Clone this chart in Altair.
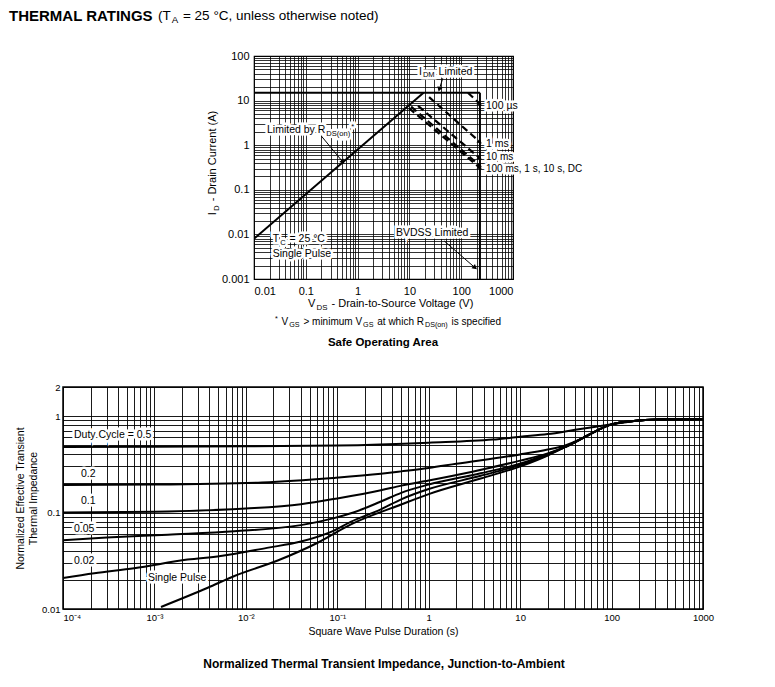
import json
import altair as alt
import pandas as pd

FONT = "Liberation Sans, Arial, Helvetica, sans-serif"

# ---------------- Safe Operating Area ----------------
rds_v = [0.01, 18.75]            # Limited by RDS(on)
rds_i = [0.008, 15.0]
idm_v = [0.01, 230.0]            # IDM limited
idm_i = [15.0, 15.0]
bvdss_v = [230.0, 230.0]         # BVDSS limited
bvdss_i = [15.0, 0.001]

pulse_names = ["100 us", "1 ms", "10 ms", "100 ms", "DC"]
pulse_v0 = [135.0, 24.0, 14.7, 9.8, 10.8]
pulse_i0 = [15.0, 12.0, 7.6, 6.8, 7.3]
pulse_v1 = [230.0, 230.0, 230.0, 230.0, 230.0]
pulse_i1 = [8.4, 1.18, 0.51, 0.31, 0.345]

arrow_names = ["rds", "idm", "bvdss"]
arrow_v0 = [0.2, 44.0, 47.2]
arrow_i0 = [1.6, 31.6, 0.0071]
arrow_v1 = [0.52, 37.8, 185.0]
arrow_i1 = [0.42, 17.9, 0.00179]
arrow_angles = [50, 107, 40]

soa_x_label_vals = [0.01, 0.1, 1, 10, 100, 1000]
soa_x_labels = ["0.01", "0.1", "1", "10", "100", "1000"]
soa_y_label_vals = [0.001, 0.01, 0.1, 1, 10, 100]
soa_y_labels = ["0.001", "0.01", "0.1", "1", "10", "100"]

# ---------------- Transient thermal impedance ----------------
tail_t = [50, 70, 100, 200, 400, 1000]
tail_z = [0.6, 0.71, 0.82, 0.9, 0.925, 0.93]

d05_t = [1e-4, 1e-3, 1e-2, 0.1, 1, 5, 10, 20, 40, 70, 100, 200, 400, 1000]
d05_z = [0.478, 0.48, 0.485, 0.495, 0.53, 0.57, 0.61, 0.65, 0.72, 0.78, 0.82, 0.9, 0.925, 0.93]
d02_t = [1e-4, 1e-3, 0.015, 0.09, 0.3, 0.5, 1, 2, 10, 20, 30] + tail_t
d02_z = [0.193, 0.195, 0.205, 0.228, 0.252, 0.267, 0.29, 0.32, 0.4, 0.45, 0.49] + tail_z
d01_t = [1e-4, 1e-3, 1e-2, 0.04, 0.1, 0.3, 0.5, 1, 3, 10, 20, 30] + tail_t
d01_z = [0.1, 0.102, 0.11, 0.122, 0.14, 0.17, 0.19, 0.215, 0.265, 0.345, 0.41, 0.47] + tail_z
d005_t = [1e-4, 3e-4, 1.4e-3, 7.5e-3, 0.04, 0.09, 0.15, 0.3, 0.5, 1, 3.7, 11, 20, 30] + tail_t
d005_z = [0.0515, 0.055, 0.059, 0.064, 0.074, 0.087, 0.1, 0.13, 0.16, 0.195, 0.255, 0.33, 0.405, 0.47] + tail_z
d002_t = [1e-4, 2.2e-4, 6e-4, 2.3e-3, 5.3e-3, 0.017, 0.04, 0.092, 0.14, 0.3, 0.5, 1, 3.7, 11, 20, 30] + tail_t
d002_z = [0.021, 0.0235, 0.0265, 0.0325, 0.0355, 0.043, 0.05, 0.065, 0.08, 0.108, 0.137, 0.175, 0.24, 0.32, 0.395, 0.47] + tail_z
sp_t = [1.18e-3, 3.83e-3, 7.5e-3, 0.0223, 0.061, 0.141, 0.5, 1, 3.7, 11, 20, 30] + tail_t
sp_z = [0.0105, 0.0166, 0.022, 0.0318, 0.0486, 0.0754, 0.121, 0.155, 0.225, 0.31, 0.39, 0.47] + tail_z

zth_x_label_vals = [0.0001, 0.001, 0.01, 0.1, 1, 10, 100, 1000]
zth_x_labels = ["10⁻⁴", "10⁻³", "10⁻²", "10⁻¹", "1", "10", "100", "1000"]
zth_y_label_vals = [0.01, 0.1, 1, 2]
zth_y_labels = ["0.01", "0.1", "1", "2"]

zth_label_text = ["Duty Cycle = 0.5", "0.2", "0.1", "0.05", "0.02", "Single Pulse"]
zth_label_t = [1.32e-4, 1.57e-4, 1.57e-4, 1.32e-4, 1.32e-4, 8.5e-4]
zth_label_z = [0.63, 0.25, 0.1316, 0.0675, 0.0314, 0.0209]

# ---------------- helpers ----------------
AW = {" ": 278, "!": 278, "(": 333, ")": 333, "*": 389, "+": 584, ",": 278, "-": 333, ".": 278,
      "/": 278, ":": 278, "<": 584, "=": 584, ">": 584, "°": 400, "µ": 556,
      "A": 667, "B": 667, "C": 722, "D": 722, "E": 667, "F": 611, "G": 778, "H": 722, "I": 278,
      "J": 500, "K": 667, "L": 556, "M": 833, "N": 722, "O": 778, "P": 667, "Q": 778, "R": 722,
      "S": 667, "T": 611, "U": 722, "V": 667, "W": 944, "X": 667, "Y": 667, "Z": 611,
      "a": 556, "b": 556, "c": 500, "d": 556, "e": 556, "f": 278, "g": 556, "h": 556, "i": 222,
      "j": 222, "k": 500, "l": 222, "m": 833, "n": 556, "o": 556, "p": 556, "q": 556, "r": 333,
      "s": 500, "t": 278, "u": 556, "v": 500, "w": 722, "x": 500, "y": 500, "z": 500}
GAP = 1.0  # small gap between a subscript and its neighbours


def tw(s, fs):
    return sum(AW.get(c, 556) for c in s) * fs / 1000.0


def rich(parts, size, xe, ye, data, center=False, angle=None, weight="normal", halo=False):
    segs = []
    for idx, (txt, kind) in enumerate(parts):
        fs = size if kind == "n" else size * 0.72
        dy = 0 if kind == "n" else (size * 0.32 if kind == "sub" else -size * 0.3)
        w = tw(txt, fs)
        if idx < len(parts) - 1 and (kind != "n" or parts[idx + 1][1] != "n"):
            w += GAP
        segs.append((txt, fs, dy, w))
    total = sum(s[3] for s in segs)
    off = -total / 2 if center else 0
    halos, texts = [], []
    for txt, fs, dy, w in segs:
        core = txt.lstrip(" ")
        lead = tw(txt[:len(txt) - len(core)], fs)   # SVG drops leading blanks
        kw = dict(text=core.rstrip(" "), align="left", baseline="middle", dx=off + lead, dy=dy,
                  fontSize=fs, font=FONT, fontWeight=weight)
        if angle is not None:
            kw["angle"] = angle
        texts.append(alt.Chart(data).mark_text(color="black", **kw).encode(x=xe, y=ye))
        if halo:
            halos.append(alt.Chart(data).mark_text(color="white", stroke="white",
                                                   strokeWidth=5, **kw).encode(x=xe, y=ye))
        off += w
    return halos, texts


def log_ticks(e0, e1, extra):
    return [round(k * 10.0 ** e, 10) for e in range(e0, e1 + 1) for k in range(1, 10)] + extra


def label_expr(vals, labels):
    v = json.dumps([float(x) for x in vals])
    l = json.dumps(labels, ensure_ascii=False)
    return f"indexof({v}, datum.value) >= 0 ? {l}[indexof({v}, datum.value)] : ''"


dummy = pd.DataFrame({"a": [0]})

# ---------------- SOA chart ----------------
XS = alt.Scale(type="log", domain=[0.01, 1000], nice=False)
YS = alt.Scale(type="log", domain=[0.001, 100], nice=False)
grid_kw = dict(grid=True, gridColor="black", gridWidth=0.8, gridOpacity=1, ticks=False,
               domain=False, labelFont=FONT, labelColor="black", labelOverlap=False, title=None)
XAX = alt.Axis(values=[float(x) for x in log_ticks(-2, 2, [1000.0])],
               labelExpr=label_expr(soa_x_label_vals, soa_x_labels),
               labelFontSize=11, labelPadding=6, labelFlush=True, **grid_kw)
YAX = alt.Axis(values=[float(x) for x in log_ticks(-3, 1, [100.0])],
               labelExpr=label_expr(soa_y_label_vals, soa_y_labels),
               labelFontSize=11, labelPadding=5, labelFlush=False, **grid_kw)


def sx(f):
    return alt.X(f, type="quantitative", scale=XS, axis=XAX)


def sy(f):
    return alt.Y(f, type="quantitative", scale=YS, axis=YAX)


solid_rows = []
for name, vs, is_ in [("rds", rds_v, rds_i), ("idm", idm_v, idm_i), ("bv", bvdss_v, bvdss_i)]:
    for k, (v, i) in enumerate(zip(vs, is_)):
        solid_rows.append({"name": name, "k": k, "v": v, "i": i})
solid_df = pd.DataFrame(solid_rows)

pulse_rows = []
for n, a, b, c, d in zip(pulse_names, pulse_v0, pulse_i0, pulse_v1, pulse_i1):
    pulse_rows += [{"name": n, "k": 0, "v": a, "i": b}, {"name": n, "k": 1, "v": c, "i": d}]
pulse_df = pd.DataFrame(pulse_rows)
pulse_end_df = pd.DataFrame({"v": pulse_v1, "i": pulse_i1})

arrow_rows = []
for n, a, b, c, d in zip(arrow_names, arrow_v0, arrow_i0, arrow_v1, arrow_i1):
    arrow_rows += [{"name": n, "k": 0, "v": a, "i": b}, {"name": n, "k": 1, "v": c, "i": d}]
arrow_df = pd.DataFrame(arrow_rows)

solid = alt.Chart(solid_df).mark_line(color="black", strokeWidth=2, clip=True).encode(
    x=sx("v"), y=sy("i"), detail="name:N", order="k:Q")
dashed = alt.Chart(pulse_df).mark_line(color="black", strokeWidth=2.2, strokeDash=[7, 4]).encode(
    x=sx("v"), y=sy("i"), detail="name:N", order="k:Q")
pulse_heads = alt.Chart(pulse_end_df).mark_point(shape="triangle-right", angle=39, filled=True,
                                                  color="black", size=28, opacity=1).encode(
    x=sx("v"), y=sy("i"))
arrows = alt.Chart(arrow_df).mark_line(color="black", strokeWidth=1).encode(
    x=sx("v"), y=sy("i"), detail="name:N", order="k:Q")
arrow_heads = []
for n, v, i, ang in zip(arrow_names, arrow_v1, arrow_i1, arrow_angles):
    arrow_heads.append(alt.Chart(pd.DataFrame({"v": [v], "i": [i]})).mark_point(
        shape="triangle-right", angle=ang, filled=True, color="black", size=30, opacity=1).encode(
        x=sx("v"), y=sy("i")))

soa_annots = [
    ([("I", "n"), ("DM", "sub"), (" Limited", "n")], 15.3, 44.5, 10.5),
    ([("Limited by R", "n"), ("DS(on)", "sub"), ("*", "sup")], 0.0178, 2.16, 10.5),
    ([("100 µs", "n")], 301, 7.45, 10.5),
    ([("1 ms", "n")], 301, 1.05, 10.5),
    ([("10 ms", "n")], 301, 0.53, 10),
    ([("100 ms, 1 s, 10 s, DC", "n")], 301, 0.29, 10),
    ([("BVDSS Limited", "n")], 5.51, 0.0109, 10.5),
    ([("T", "n"), ("C", "sub"), (" = 25 °C", "n")], 0.023, 0.00775, 10.5),
    ([("Single Pulse", "n")], 0.023, 0.00362, 10.5),
]
soa_halos, soa_texts = [], []
for parts, v, i, fs in soa_annots:
    h, t = rich(parts, fs, sx("v"), sy("i"), pd.DataFrame({"v": [v], "i": [i]}), halo=True)
    soa_halos += h
    soa_texts += t

# axis titles / caption (pixel positions relative to the plot area)
_, ytitle = rich([("I", "n"), ("D", "sub"), (" - Drain Current (A)", "n")], 11,
                 alt.value(-41), alt.value(107), dummy, center=True, angle=270)
_, xtitle1 = rich([("V", "n"), ("DS", "sub"), (" - Drain-to-Source Voltage (V)", "n")], 11,
                  alt.value(137), alt.value(248), dummy, center=True)
_, xtitle2 = rich([("*", "sup"), (" V", "n"), ("GS", "sub"), (" > minimum V", "n"), ("GS", "sub"),
                   (" at which R", "n"), ("DS(on)", "sub"), (" is specified", "n")], 10,
                  alt.value(134), alt.value(266), dummy, center=True)
soa_caption = alt.Chart(dummy).mark_text(text="Safe Operating Area", font=FONT, fontSize=11.5,
                                         fontWeight="bold", align="center", baseline="middle",
                                         color="black").encode(x=alt.value(129), y=alt.value(286.5))

soa = alt.layer(solid, dashed, *soa_halos, *soa_texts, arrows, pulse_heads, *arrow_heads,
                *ytitle, *xtitle1, *xtitle2, soa_caption).properties(
    width=259, height=223, view=alt.ViewBackground(stroke="black", strokeWidth=1.2))

# ---------------- title (spacer column to the left of the SOA chart) ----------------
title_bold = alt.Chart(dummy).mark_text(text="THERMAL RATINGS", font=FONT, fontSize=15,
                                        fontWeight="bold", align="left", baseline="middle",
                                        color="black").encode(x=alt.value(-54), y=alt.value(-40))
_, title_rest = rich([("(T", "n"), ("A", "sub"), (" = 25 °C, unless otherwise noted)", "n")], 13.5,
                     alt.value(95), alt.value(-40), dummy)
spacer = alt.layer(title_bold, *title_rest).properties(width=191, height=223)

# ---------------- Zth chart ----------------
ZXS = alt.Scale(type="log", domain=[0.0001, 1000], nice=False)
ZYS = alt.Scale(type="log", domain=[0.01, 2], nice=False)
zgrid = dict(grid=True, gridColor="black", gridWidth=0.9, gridOpacity=1, ticks=False, domain=False,
             labelFont=FONT, labelColor="black", labelOverlap=False, titleFont=FONT,
             titleColor="black", titleFontWeight="normal", titleFontSize=10.5)
ZXAX = alt.Axis(values=[float(x) for x in log_ticks(-4, 2, [1000.0])],
                labelExpr=label_expr(zth_x_label_vals, zth_x_labels),
                labelFontSize=9.5, labelPadding=3, labelFlush=False,
                labelAlign=alt.ExprRef(expr="datum.value <= 0.0001 ? 'left' : 'center'"),
                title="Square Wave Pulse Duration (s)", titlePadding=5, **zgrid)
ZYAX = alt.Axis(values=[float(x) for x in log_ticks(-2, -1, [1.0, 2.0])],
                labelExpr=label_expr(zth_y_label_vals, zth_y_labels),
                labelFontSize=9.5, labelPadding=3, labelFlush=False,
                title=["Normalized Effective Transient", "Thermal Impedance"], titlePadding=3,
                titleLineHeight=13, **zgrid)


def zx(f):
    return alt.X(f, type="quantitative", scale=ZXS, axis=ZXAX)


def zy(f):
    return alt.Y(f, type="quantitative", scale=ZYS, axis=ZYAX)


zrows = []
for name, ts, zs in [("0.5", d05_t, d05_z), ("0.2", d02_t, d02_z), ("0.1", d01_t, d01_z),
                     ("0.05", d005_t, d005_z), ("0.02", d002_t, d002_z), ("single", sp_t, sp_z)]:
    for k, (t, z) in enumerate(zip(ts, zs)):
        zrows.append({"series": name, "k": k, "t": t, "z": z})
zdf = pd.DataFrame(zrows)

curves = alt.Chart(zdf).mark_line(color="black", strokeWidth=2, interpolate="monotone").encode(
    x=zx("t"), y=zy("z"), detail="series:N", order="k:Q")

z_halos, z_texts = [], []
for txt, t, z in zip(zth_label_text, zth_label_t, zth_label_z):
    h, tt = rich([(txt, "n")], 10.5, zx("t"), zy("z"), pd.DataFrame({"t": [t], "z": [z]}), halo=True)
    z_halos += h
    z_texts += tt

z_caption = alt.Chart(dummy).mark_text(text="Normalized Thermal Transient Impedance, Junction-to-Ambient",
                                       font=FONT, fontSize=12, fontWeight="bold", align="center",
                                       baseline="middle", color="black").encode(
    x=alt.value(321), y=alt.value(277))

zth = alt.layer(curves, *z_halos, *z_texts, z_caption).properties(
    width=640, height=222, view=alt.ViewBackground(stroke="black", strokeWidth=1.5))

top = alt.hconcat(spacer, soa, spacing=0, bounds="flush")
# the nested row counts with zero height in the flush layout, so the spacing carries its 223 px
chart = alt.vconcat(top, zth, spacing=331, bounds="flush").properties(
    padding={"left": 0, "top": 0, "right": 5, "bottom": 5}
).configure_view(stroke="transparent")

chart.save("out.html", embed_options={"renderer": "svg", "actions": False})
